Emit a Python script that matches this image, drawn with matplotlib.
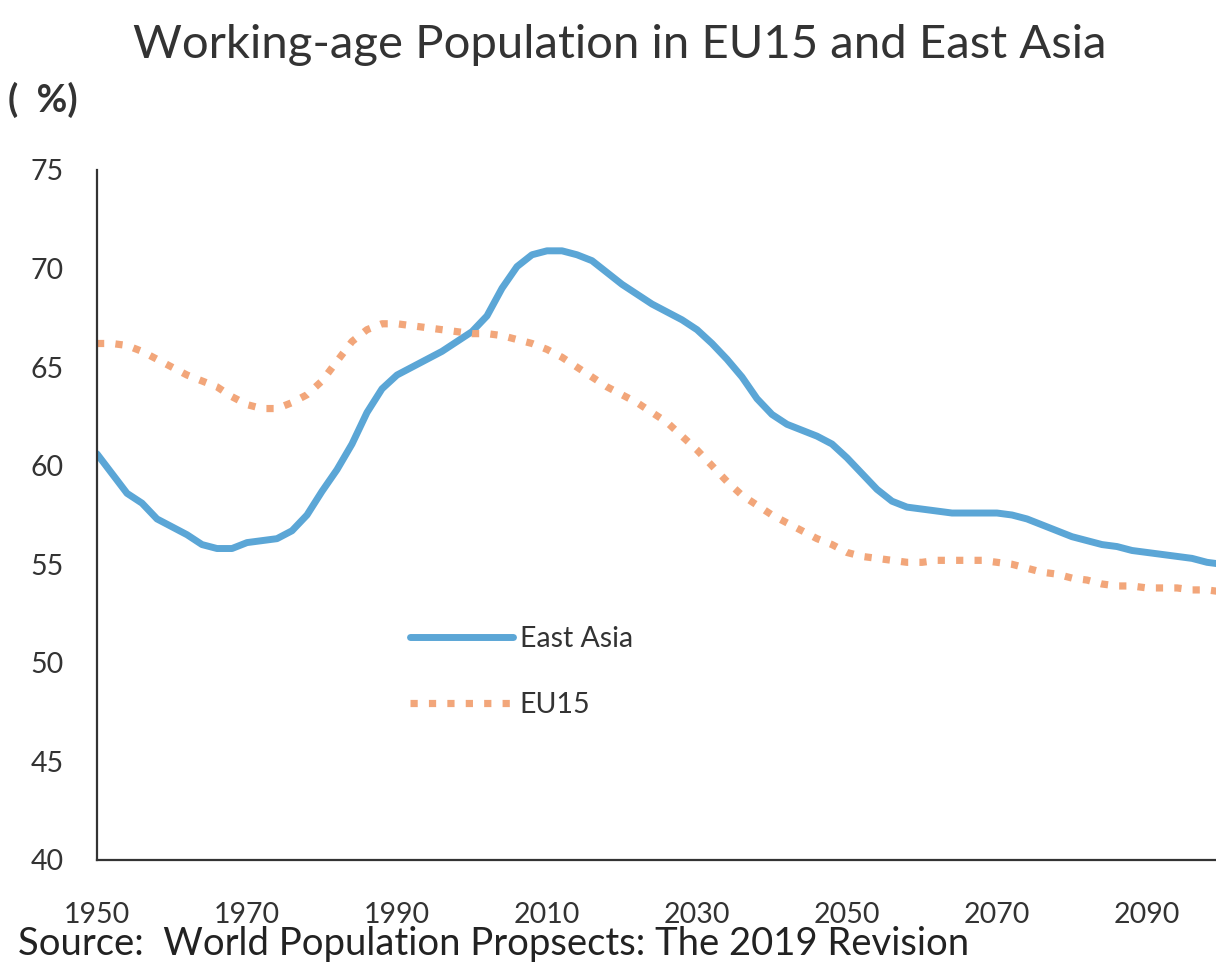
import matplotlib
matplotlib.use("Agg")
import matplotlib.pyplot as plt

years_ea = [1950, 1952, 1954, 1956, 1958, 1960, 1962, 1964, 1966, 1968, 1970, 1972, 1974, 1976, 1978,
            1980, 1982, 1984, 1986, 1988, 1990, 1992, 1994, 1996, 1998, 2000, 2002, 2004, 2006, 2008,
            2010, 2012, 2014, 2016, 2018, 2020, 2022, 2024, 2026, 2028, 2030, 2032, 2034, 2036, 2038,
            2040, 2042, 2044, 2046, 2048, 2050, 2052, 2054, 2056, 2058, 2060, 2062, 2064, 2066, 2068,
            2070, 2072, 2074, 2076, 2078, 2080, 2082, 2084, 2086, 2088, 2090, 2092, 2094, 2096, 2098, 2100]
east_asia = [60.6, 59.6, 58.6, 58.1, 57.3, 56.9, 56.5, 56.0, 55.8, 55.8, 56.1, 56.2, 56.3, 56.7, 57.5,
             58.7, 59.8, 61.1, 62.7, 63.9, 64.6, 65.0, 65.4, 65.8, 66.3, 66.8, 67.6, 69.0, 70.1, 70.7,
             70.9, 70.9, 70.7, 70.4, 69.8, 69.2, 68.7, 68.2, 67.8, 67.4, 66.9, 66.2, 65.4, 64.5, 63.4,
             62.6, 62.1, 61.8, 61.5, 61.1, 60.4, 59.6, 58.8, 58.2, 57.9, 57.8, 57.7, 57.6, 57.6, 57.6,
             57.6, 57.5, 57.3, 57.0, 56.7, 56.4, 56.2, 56.0, 55.9, 55.7, 55.6, 55.5, 55.4, 55.3, 55.1, 55.0]

years_eu = years_ea
eu15 = [66.2, 66.2, 66.1, 65.8, 65.4, 65.0, 64.6, 64.3, 64.0, 63.5, 63.1, 62.9, 62.9, 63.2, 63.6,
        64.3, 65.3, 66.3, 66.9, 67.2, 67.2, 67.1, 67.0, 66.9, 66.8, 66.7, 66.7, 66.6, 66.4, 66.2,
        65.9, 65.5, 65.0, 64.5, 64.0, 63.6, 63.2, 62.7, 62.2, 61.5, 60.8, 60.0, 59.2, 58.5, 58.0,
        57.5, 57.1, 56.7, 56.3, 56.0, 55.6, 55.4, 55.3, 55.2, 55.1, 55.1, 55.2, 55.2, 55.2, 55.2,
        55.1, 55.0, 54.8, 54.6, 54.5, 54.3, 54.2, 54.0, 53.9, 53.9, 53.8, 53.8, 53.8, 53.7, 53.7, 53.6]

x_ticks = [1950, 1970, 1990, 2010, 2030, 2050, 2070, 2090]
y_ticks = [40, 45, 50, 55, 60, 65, 70, 75]

title = "Working-age Population in EU15 and East Asia"
unit_label = "(  %)"
source = "Source:  World Population Propsects: The 2019 Revision"

plt.rcParams['font.family'] = ['Lato', 'DejaVu Sans']

W, H = 1216, 966
fig = plt.figure(figsize=(W / 100, H / 100), dpi=100)
ax = fig.add_axes([97 / W, (H - 860) / H, (1222 - 97) / W, (860 - 170) / H])

blue = '#5BA6D6'
orange = '#F2A67A'
ax.plot(years_ea, east_asia, color=blue, lw=5.0, solid_capstyle='round', solid_joinstyle='round',
        label='East Asia')
ax.plot(years_eu, eu15, color=orange, lw=5.2, linestyle=(0, (1, 1.55)), dash_capstyle='butt', label='EU15')

ax.set_xlim(1950, 2100)
ax.set_ylim(40, 75)
ax.set_xticks(x_ticks)
ax.set_yticks(y_ticks)
ax.tick_params(axis='both', length=0, labelsize=20.5, colors='#333333')
ax.tick_params(axis='x', pad=30)
ax.tick_params(axis='y', pad=24)
for s in ['top', 'right']:
    ax.spines[s].set_visible(False)
for s in ['left', 'bottom']:
    ax.spines[s].set_color('#333333')
    ax.spines[s].set_linewidth(1.6)

leg = ax.legend(loc='upper left', bbox_to_anchor=(410 / W, (H - 626) / H), bbox_transform=fig.transFigure,
                frameon=False, fontsize=20.5, handlelength=3.6, handletextpad=0.25, labelspacing=1.4,
                borderaxespad=0, borderpad=0)
for t in leg.get_texts():
    t.set_color('#333333')

fig.text(620 / W, 1 - 45 / H, title, ha='center', va='center', fontsize=34, color='#333333')
fig.text(8 / W, 1 - 100 / H, unit_label, ha='left', va='center', fontsize=27, color='#333333', fontweight='bold')
fig.text(18 / W, 1 - 944 / H, source, ha='left', va='center', fontsize=27.5, color='#222222')

fig.savefig('out.png', dpi=100, facecolor='white')
